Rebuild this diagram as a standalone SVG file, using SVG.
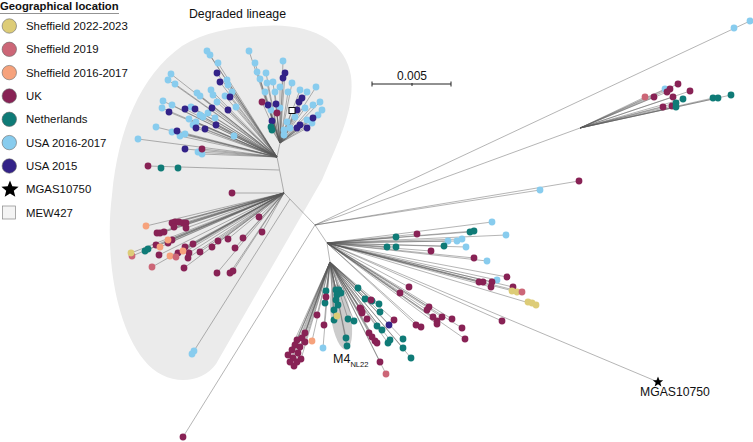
<svg xmlns="http://www.w3.org/2000/svg" width="753" height="442" viewBox="0 0 753 442">
<style>
text{font-family:"Liberation Sans",Arial,sans-serif;fill:#111}
.s22{fill:#DDCC77}.s19{fill:#CC6677}.s16{fill:#F6A27C}.uk{fill:#882255}.nl{fill:#0F7B77}.u16{fill:#88CCEE}.u15{fill:#332288}
.leg circle{stroke:#666;stroke-width:0.6}
.cn path{fill:none;stroke:#5a5a5a;stroke-width:0.45}
</style>
<rect width="753" height="442" fill="#fff"/>
<g id="degraded-lineage-area">
<path d="M262,26 C312,22 346,42 351,76 C355,110 338,142 322,180 L216,364 C200,386 164,386 144,360 C114,323 105,250 112,195 C118,130 140,76 182,46 C206,31 235,27 262,26 Z" fill="#ebebeb"/>
<text x="237.5" y="18" font-size="12.3" text-anchor="middle">Degraded lineage</text>
</g>
<g id="m4-area">
<ellipse cx="341" cy="317" rx="10" ry="33" transform="rotate(-9 341 317)" fill="#cccccc"/>
<text x="333" y="363" font-size="12.5">M4<tspan font-size="7.6" dy="4">NL22</tspan></text>
</g>
<g id="connectors" class="cn">
<path d="M277,157L284,193L315,225M284,193L232,193M279,170L148,166M290,199L192,354M315,225L183,437M315,225L750,21M315,225L580,128M315,225L579,181M315,225L540,190M315,225L327,243L330,262M327,243L658,382M277,157L280,143"/>
<path d="M277,157L207,51M277,157L210,55M277,157L218,63M277,157L227,80M277,157L228,85M277,157L232,92M277,157L171,74M277,157L168,80M277,157L175,84M277,157L197,93M277,157L200,96M277,157L211,90M277,157L213,95M277,157L225,96M277,157L217,102M277,157L163,101M277,157L172,105M277,157L162,108M277,157L191,107M277,157L200,115M277,157L203,117M277,157L208,113M277,157L236,107M277,157L189,119M277,157L193,125M277,157L156,127M277,157L172,132M277,157L180,136M277,157L185,134M277,157L234,136M277,157L138,139M277,157L198,152M277,157L202,154M277,157L196,122M277,157L215,118M277,157L217,73M277,157L220,82M277,157L230,97M277,157L169,112M277,157L185,109M277,157L195,109M277,157L212,108M277,157L228,110M277,157L196,128M277,157L205,129M277,157L216,125M277,157L177,131M277,157L185,149M277,157L202,149"/>
<path d="M280,143L249,51M280,143L255,63M280,143L257,72M280,143L283,61M280,143L273,82M280,143L292,83M280,143L280,87M280,143L260,79M280,143L266,73M280,143L267,83M280,143L265,92M280,143L275,92M280,143L288,92M280,143L280,108M280,143L271,110M280,143L300,90M280,143L316,87M280,143L307,92M280,143L320,102M280,143L322,110M280,143L318,115M280,143L307,120M280,143L290,128M280,143L284,130M280,143L295,117M280,143L287,122M280,143L312,123M280,143L313,105M280,143L305,108M280,143L285,73M280,143L283,78M280,143L268,105M280,143L276,104M280,143L272,121M280,143L302,98M280,143L313,118M280,143L300,125M280,143L297,128M280,143L307,128M280,143L299,102M280,143L297,110M280,143L262,102M280,143L277,113M280,143L271,127M280,143L272,130M280,143L292,110"/>
<path d="M284,193L172,223M284,193L175,222M284,193L179,222M284,193L183,223M284,193L186,223M284,193L174,227M284,193L186,228M284,193L157,233M284,193L160,233M284,193L164,232M284,193L172,240M284,193L168,243M284,193L156,245M284,193L159,255M284,193L178,253M284,193L185,247M284,193L189,253M284,193L188,258M284,193L193,244M284,193L200,252M284,193L184,268M284,193L212,247M284,193L218,241M284,193L228,239M284,193L235,248M284,193L243,238M284,193L259,217M284,193L262,232M284,193L217,273M284,193L230,273M284,193L233,271M284,193L146,226M284,193L168,240M284,193L160,247M284,193L170,256M284,193L183,251M284,193L131,253M284,193L132,256M284,193L176,257M284,193L152,267M284,193L145,251"/>
<path d="M580,128L645,97M580,128L654,97M580,128L670,89M580,128L667,92M580,128L678,84M580,128L690,91M580,128L673,97M580,128L663,107M580,128L672,106M580,128L665,89M580,128L683,99M580,128L676,103M580,128L676,107M580,128L713,98M580,128L718,98M580,128L731,95"/>
<path d="M327,243L492,222M327,243L506,235M327,243L448,241M327,243L457,241M327,243L462,239M327,243L466,247M327,243L487,261M327,243L497,280M327,243L396,237M327,243L474,231M327,243L387,247M327,243L396,247M327,243L444,246M327,243L417,234M327,243L431,251M327,243L474,258M327,243L507,277M327,243L492,282M327,243L483,282M327,243L479,282M327,243L491,287M327,243L513,287M327,243L502,321M327,243L409,287M327,243L400,293M327,243L429,307M327,243L427,310M327,243L433,317M327,243L437,321M327,243L442,317M327,243L452,319M327,243L437,324M327,243L416,325M327,243L421,327M327,243L462,328M327,243L465,339M327,243L517,292M327,243L536,305M327,243L522,292M327,243L470,232"/>
<path d="M330,262L326,291M330,262L336,290M330,262L339,290M330,262L341,293M330,262L337,295M330,262L336,300M330,262L338,305M330,262L334,320M330,262L348,319M330,262L354,321M330,262L346,338M330,262L347,346M330,262L358,288M330,262L325,303M330,262L365,299M330,262L372,301M330,262L379,304M330,262L380,312M330,262L377,326M330,262L382,330M330,262L390,340M330,262L388,343M330,262L403,339M330,262L403,348M330,262L411,358M330,262L334,310M330,262L337,316M330,262L326,297M330,262L317,315M330,262L324,325M330,262L361,309M330,262L362,312M330,262L367,319M330,262L394,320M330,262L369,333M330,262L372,337M330,262L375,341M330,262L377,343M330,262L380,362M330,262L371,300M330,262L360,308M330,262L362,313M330,262L389,325M330,262L386,374M330,262L312,341M330,262L323,348M330,262L305,333M330,262L302,338M330,262L297,340M330,262L295,345M330,262L300,347M330,262L292,350M330,262L298,353M330,262L293,358M330,262L297,362M330,262L305,342M330,262L288,355M330,262L301,359M330,262L294,366M330,262L290,362"/>
</g>
<g id="clade-upper-left">
<g class="u16">
<circle cx="207" cy="51" r="3.4"/><circle cx="210" cy="55" r="3.4"/><circle cx="218" cy="63" r="3.4"/><circle cx="227" cy="80" r="3.4"/><circle cx="228" cy="85" r="3.4"/><circle cx="232" cy="92" r="3.4"/><circle cx="171" cy="74" r="3.4"/><circle cx="168" cy="80" r="3.4"/><circle cx="175" cy="84" r="3.4"/><circle cx="197" cy="93" r="3.4"/><circle cx="200" cy="96" r="3.4"/><circle cx="211" cy="90" r="3.4"/><circle cx="213" cy="95" r="3.4"/><circle cx="225" cy="96" r="3.4"/><circle cx="217" cy="102" r="3.4"/><circle cx="163" cy="101" r="3.4"/><circle cx="172" cy="105" r="3.4"/><circle cx="162" cy="108" r="3.4"/><circle cx="191" cy="107" r="3.4"/><circle cx="200" cy="115" r="3.4"/><circle cx="203" cy="117" r="3.4"/><circle cx="208" cy="113" r="3.4"/><circle cx="236" cy="107" r="3.4"/><circle cx="189" cy="119" r="3.4"/><circle cx="193" cy="125" r="3.4"/><circle cx="156" cy="127" r="3.4"/><circle cx="172" cy="132" r="3.4"/><circle cx="180" cy="136" r="3.4"/><circle cx="185" cy="134" r="3.4"/><circle cx="234" cy="136" r="3.4"/><circle cx="138" cy="139" r="3.4"/><circle cx="198" cy="152" r="3.4"/><circle cx="202" cy="154" r="3.4"/><circle cx="196" cy="122" r="3.4"/><circle cx="215" cy="118" r="3.4"/>
</g>
<g class="u15">
<circle cx="217" cy="73" r="3.4"/><circle cx="220" cy="82" r="3.4"/><circle cx="230" cy="97" r="3.4"/><circle cx="169" cy="112" r="3.4"/><circle cx="185" cy="109" r="3.4"/><circle cx="195" cy="109" r="3.4"/><circle cx="212" cy="108" r="3.4"/><circle cx="228" cy="110" r="3.4"/><circle cx="196" cy="128" r="3.4"/><circle cx="205" cy="129" r="3.4"/><circle cx="216" cy="125" r="3.4"/><circle cx="177" cy="131" r="3.4"/><circle cx="185" cy="149" r="3.4"/>
</g>
<g class="uk"><circle cx="202" cy="149" r="3.4"/><circle cx="148" cy="166" r="3.4"/><circle cx="232" cy="193" r="3.4"/></g>
<g class="nl"><circle cx="161" cy="168" r="3.4"/><circle cx="178" cy="168" r="3.4"/></g>
</g>
<g id="clade-upper-right">
<g class="u16">
<circle cx="249" cy="51" r="3.4"/><circle cx="255" cy="63" r="3.4"/><circle cx="257" cy="72" r="3.4"/><circle cx="283" cy="61" r="3.4"/><circle cx="273" cy="82" r="3.4"/><circle cx="292" cy="83" r="3.4"/><circle cx="280" cy="87" r="3.4"/><circle cx="260" cy="79" r="3.4"/><circle cx="266" cy="73" r="3.4"/><circle cx="267" cy="83" r="3.4"/><circle cx="265" cy="92" r="3.4"/><circle cx="275" cy="92" r="3.4"/><circle cx="288" cy="92" r="3.4"/><circle cx="280" cy="108" r="3.4"/><circle cx="271" cy="110" r="3.4"/><circle cx="300" cy="90" r="3.4"/><circle cx="316" cy="87" r="3.4"/><circle cx="307" cy="92" r="3.4"/><circle cx="320" cy="102" r="3.4"/><circle cx="322" cy="110" r="3.4"/><circle cx="318" cy="115" r="3.4"/><circle cx="307" cy="120" r="3.4"/><circle cx="290" cy="128" r="3.4"/><circle cx="284" cy="130" r="3.4"/><circle cx="284" cy="135" r="3.4"/><circle cx="295" cy="117" r="3.4"/><circle cx="287" cy="122" r="3.4"/><circle cx="312" cy="123" r="3.4"/><circle cx="313" cy="105" r="3.4"/><circle cx="305" cy="108" r="3.4"/>
</g>
<g class="u15">
<circle cx="285" cy="73" r="3.4"/><circle cx="283" cy="78" r="3.4"/><circle cx="268" cy="105" r="3.4"/><circle cx="276" cy="104" r="3.4"/><circle cx="272" cy="121" r="3.4"/><circle cx="302" cy="98" r="3.4"/><circle cx="313" cy="118" r="3.4"/><circle cx="300" cy="125" r="3.4"/><circle cx="297" cy="128" r="3.4"/><circle cx="307" cy="128" r="3.4"/><circle cx="299" cy="102" r="3.4"/><circle cx="297" cy="110" r="3.4"/>
</g>
<g class="uk"><circle cx="262" cy="102" r="3.4"/><circle cx="277" cy="113" r="3.4"/></g>
<g class="nl"><circle cx="271" cy="127" r="3.4"/><circle cx="272" cy="130" r="3.4"/></g>
<rect id="mew427-leaf" x="289" y="107.5" width="6" height="6" fill="#fff" stroke="#111" stroke-width="1"/>
</g>
<g id="clade-uk-fan">
<g class="uk">
<circle cx="172" cy="223" r="3.4"/><circle cx="175" cy="222" r="3.4"/><circle cx="179" cy="222" r="3.4"/><circle cx="183" cy="223" r="3.4"/><circle cx="186" cy="223" r="3.4"/><circle cx="174" cy="227" r="3.4"/><circle cx="186" cy="228" r="3.4"/><circle cx="157" cy="233" r="3.4"/><circle cx="160" cy="233" r="3.4"/><circle cx="164" cy="232" r="3.4"/><circle cx="172" cy="240" r="3.4"/><circle cx="168" cy="243" r="3.4"/><circle cx="156" cy="245" r="3.4"/><circle cx="159" cy="255" r="3.4"/><circle cx="178" cy="253" r="3.4"/><circle cx="185" cy="247" r="3.4"/><circle cx="189" cy="253" r="3.4"/><circle cx="188" cy="258" r="3.4"/><circle cx="193" cy="244" r="3.4"/><circle cx="200" cy="252" r="3.4"/><circle cx="184" cy="268" r="3.4"/><circle cx="212" cy="247" r="3.4"/><circle cx="218" cy="241" r="3.4"/><circle cx="228" cy="239" r="3.4"/><circle cx="235" cy="248" r="3.4"/><circle cx="243" cy="238" r="3.4"/><circle cx="259" cy="217" r="3.4"/><circle cx="262" cy="232" r="3.4"/><circle cx="217" cy="273" r="3.4"/><circle cx="230" cy="273" r="3.4"/><circle cx="233" cy="271" r="3.4"/>
</g>
<g class="s16"><circle cx="146" cy="226" r="3.4"/><circle cx="168" cy="240" r="3.4"/><circle cx="160" cy="247" r="3.4"/><circle cx="170" cy="256" r="3.4"/><circle cx="183" cy="251" r="3.4"/></g>
<g class="s19"><circle cx="132" cy="256" r="3.4"/><circle cx="176" cy="257" r="3.4"/><circle cx="152" cy="267" r="3.4"/></g>
<g class="s22"><circle cx="131" cy="253" r="3.4"/></g>
<g class="nl"><circle cx="145" cy="251" r="3.4"/><circle cx="148" cy="249" r="3.4"/></g>
<g class="u16"><circle cx="194" cy="351" r="3.4"/><circle cx="192" cy="354" r="3.4"/></g>
</g>
<g id="clade-top-right">
<g class="u16"><circle cx="734" cy="28" r="3.4"/><circle cx="750" cy="21" r="3.4"/><circle cx="665" cy="89" r="3.4"/><circle cx="540" cy="190" r="3.4"/></g>
<g class="s19"><circle cx="645" cy="97" r="3.4"/></g>
<g class="uk"><circle cx="654" cy="97" r="3.4"/><circle cx="670" cy="89" r="3.4"/><circle cx="667" cy="92" r="3.4"/><circle cx="678" cy="84" r="3.4"/><circle cx="690" cy="91" r="3.4"/><circle cx="673" cy="97" r="3.4"/><circle cx="663" cy="107" r="3.4"/><circle cx="672" cy="106" r="3.4"/><circle cx="579" cy="181" r="3.4"/><circle cx="183" cy="437" r="3.4"/></g>
<g class="nl"><circle cx="683" cy="99" r="3.4"/><circle cx="676" cy="103" r="3.4"/><circle cx="676" cy="107" r="3.4"/><circle cx="713" cy="98" r="3.4"/><circle cx="718" cy="98" r="3.4"/><circle cx="731" cy="95" r="3.4"/></g>
</g>
<g id="clade-right-middle">
<g class="u16"><circle cx="492" cy="222" r="3.4"/><circle cx="506" cy="235" r="3.4"/><circle cx="448" cy="241" r="3.4"/><circle cx="457" cy="241" r="3.4"/><circle cx="462" cy="239" r="3.4"/><circle cx="466" cy="247" r="3.4"/><circle cx="487" cy="261" r="3.4"/><circle cx="497" cy="280" r="3.4"/></g>
<g class="nl"><circle cx="396" cy="237" r="3.4"/><circle cx="470" cy="232" r="3.4"/><circle cx="474" cy="231" r="3.4"/><circle cx="387" cy="247" r="3.4"/><circle cx="396" cy="247" r="3.4"/><circle cx="444" cy="246" r="3.4"/></g>
<g class="uk"><circle cx="417" cy="234" r="3.4"/><circle cx="431" cy="251" r="3.4"/><circle cx="474" cy="258" r="3.4"/><circle cx="507" cy="277" r="3.4"/><circle cx="492" cy="282" r="3.4"/><circle cx="483" cy="282" r="3.4"/><circle cx="479" cy="282" r="3.4"/><circle cx="491" cy="287" r="3.4"/><circle cx="513" cy="287" r="3.4"/><circle cx="502" cy="321" r="3.4"/><circle cx="409" cy="287" r="3.4"/><circle cx="400" cy="293" r="3.4"/><circle cx="429" cy="307" r="3.4"/><circle cx="427" cy="310" r="3.4"/><circle cx="433" cy="317" r="3.4"/><circle cx="437" cy="321" r="3.4"/><circle cx="442" cy="317" r="3.4"/><circle cx="452" cy="319" r="3.4"/><circle cx="437" cy="324" r="3.4"/><circle cx="416" cy="325" r="3.4"/><circle cx="421" cy="327" r="3.4"/><circle cx="462" cy="328" r="3.4"/><circle cx="465" cy="339" r="3.4"/></g>
<g class="s22"><circle cx="512" cy="291" r="3.4"/><circle cx="517" cy="292" r="3.4"/><circle cx="528" cy="302" r="3.4"/><circle cx="532" cy="303" r="3.4"/><circle cx="536" cy="305" r="3.4"/></g>
<g class="s19"><circle cx="522" cy="292" r="3.4"/></g>
</g>
<g id="clade-m4">
<g class="nl"><circle cx="326" cy="291" r="3.4"/><circle cx="336" cy="290" r="3.4"/><circle cx="339" cy="290" r="3.4"/><circle cx="341" cy="293" r="3.4"/><circle cx="337" cy="295" r="3.4"/><circle cx="336" cy="300" r="3.4"/><circle cx="338" cy="305" r="3.4"/><circle cx="334" cy="320" r="3.4"/><circle cx="348" cy="319" r="3.4"/><circle cx="354" cy="321" r="3.4"/><circle cx="346" cy="338" r="3.4"/><circle cx="347" cy="346" r="3.4"/><circle cx="358" cy="288" r="3.4"/><circle cx="325" cy="303" r="3.4"/><circle cx="365" cy="299" r="3.4"/><circle cx="372" cy="301" r="3.4"/><circle cx="379" cy="304" r="3.4"/><circle cx="380" cy="312" r="3.4"/><circle cx="377" cy="326" r="3.4"/><circle cx="382" cy="330" r="3.4"/><circle cx="390" cy="340" r="3.4"/><circle cx="388" cy="343" r="3.4"/><circle cx="403" cy="339" r="3.4"/><circle cx="403" cy="348" r="3.4"/><circle cx="411" cy="358" r="3.4"/><circle cx="334" cy="310" r="3.4"/></g>
<g class="s22"><circle cx="337" cy="316" r="3.4"/></g>
<g class="uk"><circle cx="326" cy="297" r="3.4"/><circle cx="317" cy="315" r="3.4"/><circle cx="324" cy="325" r="3.4"/><circle cx="361" cy="309" r="3.4"/><circle cx="362" cy="312" r="3.4"/><circle cx="367" cy="319" r="3.4"/><circle cx="394" cy="320" r="3.4"/><circle cx="369" cy="333" r="3.4"/><circle cx="372" cy="337" r="3.4"/><circle cx="375" cy="341" r="3.4"/><circle cx="377" cy="343" r="3.4"/><circle cx="380" cy="362" r="3.4"/><circle cx="371" cy="300" r="3.4"/><circle cx="360" cy="308" r="3.4"/><circle cx="362" cy="313" r="3.4"/><circle cx="305" cy="333" r="3.4"/><circle cx="302" cy="338" r="3.4"/><circle cx="297" cy="340" r="3.4"/><circle cx="295" cy="345" r="3.4"/><circle cx="300" cy="347" r="3.4"/><circle cx="292" cy="350" r="3.4"/><circle cx="298" cy="353" r="3.4"/><circle cx="293" cy="358" r="3.4"/><circle cx="297" cy="362" r="3.4"/><circle cx="305" cy="342" r="3.4"/><circle cx="288" cy="355" r="3.4"/><circle cx="301" cy="359" r="3.4"/><circle cx="294" cy="366" r="3.4"/><circle cx="290" cy="362" r="3.4"/></g>
<g class="u15"><circle cx="389" cy="325" r="3.4"/></g>
<g class="s19"><circle cx="386" cy="374" r="3.4"/></g>
<g class="s16"><circle cx="312" cy="341" r="3.4"/></g>
<g class="u16"><circle cx="323" cy="348" r="3.4"/></g>
</g>
<g id="mgas10750">
<polygon points="658,376.5 659.5,380.3 663.2,380.3 660.3,382.7 661.4,386.5 658,384.2 654.6,386.5 655.7,382.7 652.8,380.3 656.5,380.3" fill="#000"/>
<text x="640" y="396" font-size="12.2">MGAS10750</text>
</g>
<g id="scale-bar">
<path d="M372,84H451M372,81.5V86.5M451,81.5V86.5M412,83V86" stroke="#222" stroke-width="1" fill="none"/>
<text x="412" y="80" font-size="12" text-anchor="middle">0.005</text>
</g>
<g id="legend">
<text x="0" y="9.5" font-size="11.3" font-weight="bold">Geographical location</text>
<path d="M0,13.5H119" stroke="#777" stroke-width="0.8"/>
<g class="leg">
<circle class="s22" cx="9.3" cy="26" r="7.2"/>
<circle class="s19" cx="9.3" cy="49.3" r="7.2"/>
<circle class="s16" cx="9.3" cy="72.6" r="7.2"/>
<circle class="uk" cx="9.3" cy="96" r="7.2"/>
<circle class="nl" cx="9.3" cy="119.3" r="7.2"/>
<circle class="u16" cx="9.3" cy="142.6" r="7.2"/>
<circle class="u15" cx="9.3" cy="166" r="7.2"/>
</g>
<polygon points="10,180.5 12.3,186.3 18.6,186.7 13.8,190.7 15.3,196.8 10,193.5 4.7,196.8 6.2,190.7 1.4,186.7 7.7,186.3" fill="#000"/>
<rect x="2.5" y="206" width="13" height="13" fill="#f4f4f4" stroke="#888" stroke-width="0.7"/>
<g font-size="11.4">
<text x="26" y="30">Sheffield 2022-2023</text>
<text x="26" y="53.3">Sheffield 2019</text>
<text x="26" y="76.6">Sheffield 2016-2017</text>
<text x="26" y="100">UK</text>
<text x="26" y="123.3">Netherlands</text>
<text x="26" y="146.6">USA 2016-2017</text>
<text x="26" y="170">USA 2015</text>
<text x="26" y="193.3">MGAS10750</text>
<text x="26" y="216.6">MEW427</text>
</g>
</g>
</svg>
